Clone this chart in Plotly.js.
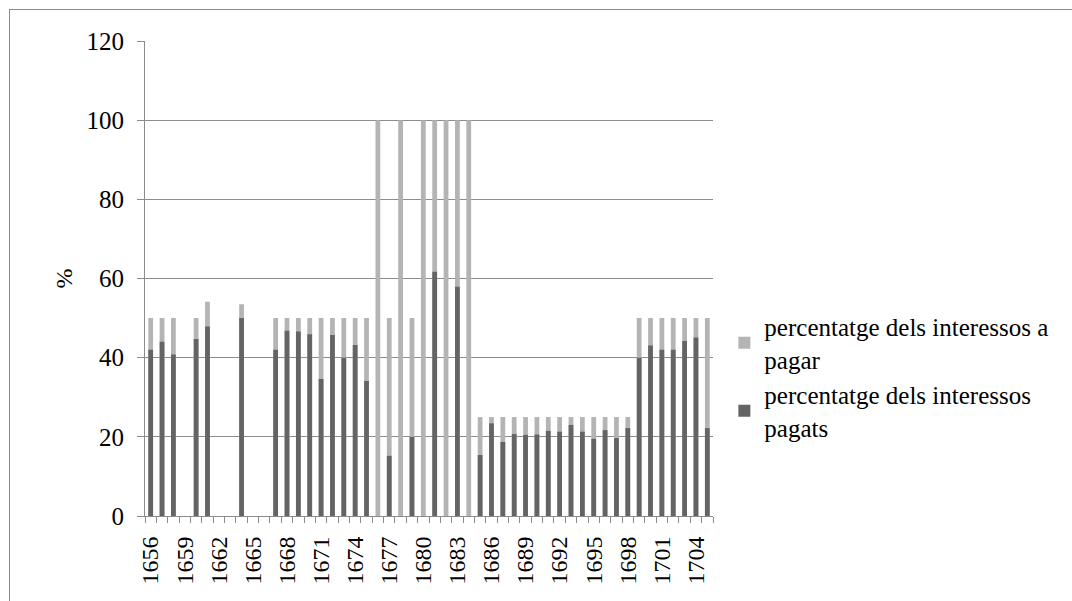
<!DOCTYPE html>
<html>
<head>
<meta charset="utf-8">
<script src="https://cdn.plot.ly/plotly-3.0.1.min.js"></script>
<style>
  body { margin: 0; background: #fff; overflow: hidden; }
  #frame { position: absolute; left: 9px; top: 9px; width: 1100px; height: 620px; border: 1px solid #8c8c8c; }
  #plotArea { position: absolute; left: 0; top: 0; width: 1072px; height: 601px; }
</style>
</head>
<body>
<div id="frame"></div>
<div id="plotArea"></div>
<script>
// years 1656 - 1705
var years = [];
for (var y = 1656; y <= 1705; y++) years.push(y);

// percentatge dels interessos a pagar (null = no data)
var aPagar = [50, 50, 50, null, 50, 54.1, null, null, 53.5, null,
              null, 50, 50, 50, 50, 50, 50, 50, 50, 50,
              100, 50, 100, 50, 100, 100, 100, 100, 100, 25,
              25, 25, 25, 25, 25, 25, 25, 25, 25, 25,
              25, 25, 25, 50, 50, 50, 50, 50, 50, 50];

// percentatge dels interessos pagats
var pagats = [42, 44, 40.8, null, 44.7, 47.9, null, null, 50, null,
              null, 42, 46.8, 46.6, 45.9, 34.6, 45.7, 40, 43.2, 34.1,
              0, 15.2, 0, 20, 0, 61.7, 0, 57.9, 0, 15.4,
              23.4, 18.7, 20.7, 20.5, 20.6, 21.5, 21.3, 23, 21.3, 19.5,
              21.7, 19.7, 22.2, 40, 43.1, 42, 42, 44.2, 45.1, 22.2];

var tickYears = [];
for (var t = 1656; t <= 1704; t += 3) tickYears.push(t);

var trace1 = {
    x: years,
    y: aPagar,
    type: "bar",
    name: "percentatge dels interessos a<br>pagar",
    marker: {color: "#b4b4b4"},
    width: 0.42
};

var trace2 = {
    x: years,
    y: pagats,
    type: "bar",
    name: "percentatge dels interessos<br>pagats",
    marker: {color: "#646464"},
    width: 0.42
};

var serif = "Liberation Serif";

var layout = {
    barmode: "overlay",
    width: 1072,
    height: 601,
    margin: {l: 145, r: 359, t: 41, b: 85},
    paper_bgcolor: "rgba(0,0,0,0)",
    plot_bgcolor: "#fff",
    font: {family: serif, size: 24, color: "#000"},
    showlegend: true,
    legend: {
        x: 1.02, y: 0.447, xanchor: "left", yanchor: "top",
        font: {family: serif, size: 25},
        tracegroupgap: 28,
        itemwidth: 30
    },
    xaxis: {
        type: "linear",
        range: [1655.5, 1705.5],
        tickmode: "array",
        tickvals: tickYears,
        tickangle: -90,
        ticks: "",
        showgrid: false,
        zeroline: false,
        showline: true,
        linecolor: "#8c8c8c",
        linewidth: 1,
        ticklabelstandoff: 10,
        tickfont: {family: serif, size: 24},
        minor: {tick0: 1655.5, dtick: 1, ticks: "outside", ticklen: 6, tickcolor: "#8c8c8c", showgrid: false}
    },
    yaxis: {
        range: [0, 120],
        dtick: 20,
        ticks: "outside",
        ticklen: 7,
        tickcolor: "#8c8c8c",
        showgrid: true,
        gridcolor: "#8c8c8c",
        zeroline: false,
        showline: true,
        linecolor: "#8c8c8c",
        ticklabelstandoff: 8,
        tickfont: {family: serif, size: 25},
        title: {text: "%", font: {family: serif, size: 24}, standoff: 7}
    }
};

Plotly.newPlot("plotArea", [trace1, trace2], layout, {displayModeBar: false});
</script>
</body>
</html>
